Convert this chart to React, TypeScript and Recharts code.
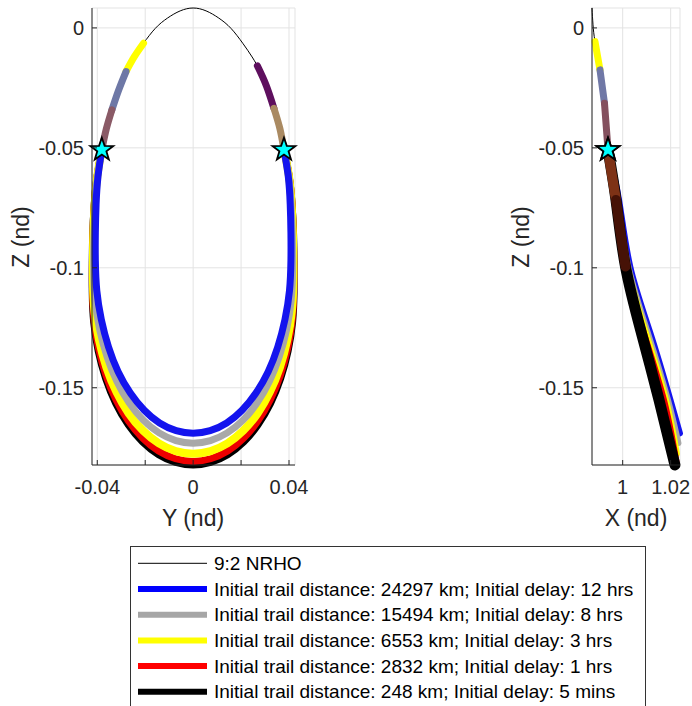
import React from "react"
import {
  ComposedChart,
  Line,
  Scatter,
  XAxis,
  YAxis,
  CartesianGrid
} from "recharts"

// all values in non-dimensional units (nd), pairs are [Y, Z] or [X, Z]

// 9:2 NRHO, Y-Z projection, closed loop starting at the bottom
const nrhoYZ = [
  [0, -0.1822], [-0.0073, -0.1811], [-0.0144, -0.1779], [-0.0211, -0.1726], [-0.0271, -0.1654],
  [-0.0323, -0.1565], [-0.0365, -0.1462], [-0.0396, -0.1348], [-0.0415, -0.1227], [-0.0421, -0.1102],
  [-0.0421, -0.098], [-0.0419, -0.086], [-0.0413, -0.074], [-0.0401, -0.062], [-0.0381, -0.0508],
  [-0.0362, -0.042], [-0.0339, -0.0342], [-0.0311, -0.026], [-0.028, -0.0182], [-0.0246, -0.0121],
  [-0.0207, -0.0064], [-0.0158, -0.0002], [-0.0107, 0.0041], [-0.0054, 0.0071], [0, 0.0083],
  [0.0054, 0.0071], [0.0107, 0.0041], [0.0158, -0.0002], [0.0207, -0.0064], [0.0246, -0.0121],
  [0.028, -0.0182], [0.0311, -0.026], [0.0339, -0.0342], [0.0362, -0.042], [0.0379, -0.0508],
  [0.0401, -0.062], [0.0413, -0.074], [0.0419, -0.086], [0.0421, -0.098], [0.0421, -0.1102],
  [0.0415, -0.1227], [0.0396, -0.1348], [0.0365, -0.1462], [0.0323, -0.1565], [0.0271, -0.1654],
  [0.0211, -0.1726], [0.0144, -0.1779], [0.0073, -0.1811], [0, -0.1822]
]

// trails, Y-Z (left star -> bottom -> right star)
const blackYZ = [
  [-0.0381, -0.0508], [-0.0401, -0.062], [-0.0413, -0.074], [-0.0419, -0.086], [-0.0421, -0.098],
  [-0.0421, -0.1102], [-0.0415, -0.1227], [-0.0396, -0.1348], [-0.0365, -0.1462], [-0.0323, -0.1565],
  [-0.0271, -0.1654], [-0.0211, -0.1726], [-0.0144, -0.1779], [-0.0073, -0.1811], [0, -0.1822],
  [0.0073, -0.1811], [0.0144, -0.1779], [0.0211, -0.1726], [0.0271, -0.1654], [0.0323, -0.1565],
  [0.0365, -0.1462], [0.0396, -0.1348], [0.0415, -0.1227], [0.0421, -0.1102], [0.0421, -0.098],
  [0.0419, -0.086], [0.0413, -0.074], [0.0401, -0.062], [0.0379, -0.0508]
]
const redYZ = [
  [-0.0381, -0.0508], [-0.0401, -0.062], [-0.0413, -0.074], [-0.0418, -0.086], [-0.042, -0.097],
  [-0.042, -0.1087], [-0.0414, -0.1212], [-0.0395, -0.1333], [-0.0364, -0.1447], [-0.0322, -0.155],
  [-0.027, -0.1639], [-0.021, -0.1711], [-0.0144, -0.1764], [-0.0073, -0.1796], [0, -0.1807],
  [0.0073, -0.1796], [0.0144, -0.1764], [0.021, -0.1711], [0.027, -0.1639], [0.0322, -0.155],
  [0.0364, -0.1447], [0.0395, -0.1333], [0.0414, -0.1212], [0.042, -0.1087], [0.042, -0.097],
  [0.0418, -0.086], [0.0413, -0.074], [0.0401, -0.062], [0.0379, -0.0508]
]
const yellowYZ = [
  [-0.0381, -0.0508], [-0.04, -0.062], [-0.0411, -0.074], [-0.0416, -0.085], [-0.0418, -0.0955],
  [-0.0418, -0.1055], [-0.0412, -0.118], [-0.0393, -0.1301], [-0.0362, -0.1415], [-0.032, -0.1518],
  [-0.0269, -0.1607], [-0.0209, -0.1679], [-0.0143, -0.1732], [-0.0073, -0.1764], [0, -0.1775],
  [0.0073, -0.1764], [0.0143, -0.1732], [0.0209, -0.1679], [0.0269, -0.1607], [0.032, -0.1518],
  [0.0362, -0.1415], [0.0393, -0.1301], [0.0412, -0.118], [0.0418, -0.1055], [0.0418, -0.0955],
  [0.0416, -0.085], [0.0411, -0.074], [0.04, -0.062], [0.0379, -0.0508]
]
const grayYZ = [
  [-0.0381, -0.0508], [-0.0399, -0.062], [-0.0409, -0.074], [-0.0414, -0.0875], [-0.0415, -0.1011],
  [-0.0409, -0.1136], [-0.039, -0.1257], [-0.0359, -0.1371], [-0.0318, -0.1474], [-0.0267, -0.1563],
  [-0.0208, -0.1635], [-0.0142, -0.1688], [-0.0072, -0.172], [0, -0.1731], [0.0072, -0.172],
  [0.0142, -0.1688], [0.0208, -0.1635], [0.0267, -0.1563], [0.0318, -0.1474], [0.0359, -0.1371],
  [0.039, -0.1257], [0.0409, -0.1136], [0.0415, -0.1011], [0.0414, -0.0875], [0.0409, -0.074],
  [0.0399, -0.062], [0.0379, -0.0508]
]
const blueYZ = [
  [-0.0381, -0.0508], [-0.0397, -0.062], [-0.0405, -0.0735], [-0.0408, -0.0853], [-0.0408, -0.097],
  [-0.0402, -0.1095], [-0.0383, -0.1216], [-0.0353, -0.133], [-0.0313, -0.1433], [-0.0262, -0.1522],
  [-0.0204, -0.1594], [-0.014, -0.1647], [-0.0071, -0.1679], [0, -0.169], [0.0071, -0.1679],
  [0.014, -0.1647], [0.0204, -0.1594], [0.0262, -0.1522], [0.0313, -0.1433], [0.0353, -0.133],
  [0.0383, -0.1216], [0.0402, -0.1095], [0.0408, -0.097], [0.0408, -0.0853], [0.0405, -0.0735],
  [0.0397, -0.062], [0.0379, -0.0508]
]

// colour-mapped segments above the stars, Y-Z
const yellowArcYZ = [[-0.0207, -0.0064], [-0.0246, -0.0121], [-0.028, -0.0182]]
const slateArcYZ = [[-0.028, -0.0182], [-0.0311, -0.026], [-0.0339, -0.0342]]
const mauveArcYZ = [[-0.0339, -0.0342], [-0.0362, -0.042], [-0.0381, -0.0508]]
const purpleArcYZ = [[0.0268, -0.0158], [0.0305, -0.024], [0.0337, -0.0335]]
const tanArcYZ = [[0.0337, -0.0335], [0.0362, -0.042], [0.0379, -0.0508]]

// 9:2 NRHO, X-Z projection (both legs overlap)
const nrhoXZ = [
  [0.98721, 0.0082], [0.98763, 0.0013], [0.98846, -0.0057], [0.99054, -0.0175], [0.99242, -0.0314],
  [0.99388, -0.0508], [0.997, -0.0717], [1.00117, -0.0995], [1.00783, -0.1272], [1.01513, -0.155],
  [1.02179, -0.1822]
]

// trails, X-Z
const blueXZ = [[0.99388, -0.0508], [0.9985, -0.0717], [1.00317, -0.0995], [1.01158, -0.1272], [1.01992, -0.155], [1.02388, -0.169]]
const grayXZ = [[0.99388, -0.0508], [0.99785, -0.0717], [1.00242, -0.0995], [1.01054, -0.1272], [1.01888, -0.155], [1.02325, -0.1731]]
const yellowXZ = [[0.99388, -0.0508], [0.99763, -0.0717], [1.002, -0.0995], [1.00971, -0.1272], [1.01804, -0.155], [1.02263, -0.1775]]
const redXZ = [[0.99388, -0.0508], [0.99742, -0.0717], [1.00158, -0.0995], [1.00888, -0.1272], [1.01721, -0.155], [1.02242, -0.1807]]
const blackXZ = [[0.99388, -0.0508], [0.99721, -0.0717], [1.00117, -0.0995], [1.00783, -0.1272], [1.01513, -0.155], [1.02179, -0.1822]]
const rustXZ = [[0.99388, -0.0508], [0.9955, -0.0612], [0.99721, -0.0717]]
const maroonXZ = [[0.99721, -0.0717], [0.9991, -0.0855], [1.00117, -0.0995]]

// colour-mapped segments above the star, X-Z
const yellowArcXZ = [[0.98846, -0.0057], [0.9895, -0.0116], [0.99054, -0.0175]]
const slateArcXZ = [[0.99054, -0.0175], [0.99242, -0.0314]]
const mauveArcXZ = [[0.99242, -0.0314], [0.99388, -0.0508]]

// start markers (pentagrams): X, Y, Z
const stars = [
  { x: 0.99388, y: -0.0381, z: -0.0508 },
  { x: 0.99388, y: 0.0379, z: -0.0508 }
]

// axes
const zTicks = [-0.15, -0.1, -0.05, 0]
const zDomain: [number, number] = [-0.1822, 0.0083]
const yTicks = [-0.04, -0.02, 0, 0.02, 0.04]
const yTickLabels = ["-0.04", "", "0", "", "0.04"]
const yDomain: [number, number] = [-0.0422, 0.0425]
const xTicks = [1, 1.02]
const xTickLabels = ["1", "1.02"]
const xDomain: [number, number] = [0.98721, 1.0239]

// legend
const legendLabels = [
  "9:2 NRHO",
  "Initial trail distance: 24297 km; Initial delay: 12 hrs",
  "Initial trail distance: 15494 km; Initial delay: 8 hrs",
  "Initial trail distance: 6553 km; Initial delay: 3 hrs",
  "Initial trail distance: 2832 km; Initial delay: 1 hrs",
  "Initial trail distance: 248 km; Initial delay: 5 mins"
]
const legendColors = ["#000000", "#0000ff", "#a6a6a6", "#ffff00", "#ff0000", "#000000"]
const legendWidths = [1, 6, 6, 6, 6, 6]

const FONT = "'Liberation Sans', Arial, Helvetica, sans-serif"
const INK = "#262626"
const GRID = "#e3e3e3"

const yz = (pts: number[][]) => pts.map(([y, z]) => ({ y, z }))
const xz = (pts: number[][]) => pts.map(([x, z]) => ({ x, z }))

function ZTick(props: any) {
  const { x, y, payload } = props
  return (
    <g>
      <line x1={x} x2={x + 5} y1={y} y2={y} stroke={INK} />
      <text x={x - 8} y={y} textAnchor="end" dominantBaseline="central" fontSize={20} fontFamily={FONT} fill={INK}>
        {String(payload.value)}
      </text>
    </g>
  )
}

function makeBottomTick(ticks: number[], labels: string[]) {
  return function BottomTick(props: any) {
    const { x, y, payload } = props
    const i = ticks.indexOf(payload.value)
    return (
      <g>
        <line x1={x} x2={x} y1={y} y2={y - 5} stroke={INK} />
        <text x={x} y={y + 22} textAnchor="middle" dominantBaseline="central" fontSize={20} fontFamily={FONT} fill={INK}>
          {i >= 0 ? labels[i] : ""}
        </text>
      </g>
    )
  }
}
const YBottomTick = makeBottomTick(yTicks, yTickLabels)
const XBottomTick = makeBottomTick(xTicks, xTickLabels)

function StarShape(props: any) {
  const { cx, cy } = props
  const R = 12
  const r = 4.8
  const pts: string[] = []
  for (let k = 0; k < 10; k++) {
    const rad = k % 2 === 0 ? R : r
    const a = -Math.PI / 2 + (k * Math.PI) / 5
    pts.push(`${cx + rad * Math.cos(a)},${cy + rad * Math.sin(a)}`)
  }
  return <polygon points={pts.join(" ")} fill="#00ffff" stroke="#000" strokeWidth={1.8} />
}

const lineProps = {
  dataKey: "z",
  type: "natural" as const,
  dot: false,
  activeDot: false,
  isAnimationActive: false,
  strokeLinecap: "round" as const,
  strokeLinejoin: "round" as const,
  legendType: "none" as const
}

function axisCommon() {
  return {
    type: "number" as const,
    interval: 0 as const,
    tickSize: 0,
    tickMargin: 0,
    tickLine: false,
    axisLine: { stroke: INK }
  }
}

export default function App() {
  return (
    <div style={{ position: "absolute", left: 0, top: 0, width: 692, height: 706, background: "#fff", overflow: "hidden" }}>
      {/* Y-Z view */}
      <div style={{ position: "absolute", left: 0, top: 0 }}>
        <ComposedChart width={320} height={540} margin={{ top: 8, right: 25, bottom: 45, left: 0 }}>
          <CartesianGrid stroke={GRID} />
          <XAxis {...axisCommon()} dataKey="y" domain={yDomain} ticks={yTicks} height={30} tick={<YBottomTick />} />
          <YAxis {...axisCommon()} dataKey="z" domain={zDomain} ticks={zTicks} width={92} tick={<ZTick />} />
          <Line {...lineProps} data={yz(nrhoYZ)} stroke="#000" strokeWidth={1} />
          <Line {...lineProps} data={yz(blackYZ)} stroke="#000" strokeWidth={7} />
          <Line {...lineProps} data={yz(redYZ)} stroke="#ee0000" strokeWidth={7} />
          <Line {...lineProps} data={yz(yellowYZ)} stroke="#ffff00" strokeWidth={8} />
          <Line {...lineProps} data={yz(grayYZ)} stroke="#a8a8a8" strokeWidth={7} />
          <Line {...lineProps} data={yz(blueYZ)} stroke="#1414ee" strokeWidth={7} />
          <Line {...lineProps} data={yz(yellowArcYZ)} stroke="#ffff00" strokeWidth={7} />
          <Line {...lineProps} data={yz(slateArcYZ)} stroke="#6e78a6" strokeWidth={7} />
          <Line {...lineProps} data={yz(mauveArcYZ)} stroke="#8a5a66" strokeWidth={7} />
          <Line {...lineProps} data={yz(purpleArcYZ)} stroke="#5e0f5e" strokeWidth={7} />
          <Line {...lineProps} data={yz(tanArcYZ)} stroke="#aa8a62" strokeWidth={7} />
          <Scatter data={stars} dataKey="z" shape={<StarShape />} isAnimationActive={false} legendType="none" />
        </ComposedChart>
      </div>

      {/* X-Z view */}
      <div style={{ position: "absolute", left: 500, top: 0 }}>
        <ComposedChart width={192} height={540} margin={{ top: 8, right: 12, bottom: 45, left: 0 }}>
          <CartesianGrid stroke={GRID} />
          <XAxis {...axisCommon()} dataKey="x" domain={xDomain} ticks={xTicks} height={30} tick={<XBottomTick />} />
          <YAxis {...axisCommon()} dataKey="z" domain={zDomain} ticks={zTicks} width={92} tick={<ZTick />} />
          <Line {...lineProps} data={xz(nrhoXZ)} stroke="#000" strokeWidth={1} />
          <Line {...lineProps} data={xz(blueXZ)} stroke="#1414ee" strokeWidth={6} />
          <Line {...lineProps} data={xz(grayXZ)} stroke="#a8a8a8" strokeWidth={6} />
          <Line {...lineProps} data={xz(yellowXZ)} stroke="#ffff00" strokeWidth={6} />
          <Line {...lineProps} data={xz(redXZ)} stroke="#ee0000" strokeWidth={6} />
          <Line {...lineProps} data={xz(blackXZ)} stroke="#000" strokeWidth={11} />
          <Line {...lineProps} data={xz(rustXZ)} stroke="#7e3216" strokeWidth={10} />
          <Line {...lineProps} data={xz(maroonXZ)} stroke="#461206" strokeWidth={10} />
          <Line {...lineProps} data={xz(yellowArcXZ)} stroke="#ffff00" strokeWidth={7} />
          <Line {...lineProps} data={xz(slateArcXZ)} stroke="#7078a6" strokeWidth={7} />
          <Line {...lineProps} data={xz(mauveArcXZ)} stroke="#84505e" strokeWidth={7} />
          <Scatter data={stars} dataKey="z" shape={<StarShape />} isAnimationActive={false} legendType="none" />
        </ComposedChart>
      </div>

      {/* axis titles and legend */}
      <svg width={692} height={706} style={{ position: "absolute", left: 0, top: 0, pointerEvents: "none" }}>
        <g fontFamily={FONT} fontSize={23} fill={INK}>
          <text x={21} y={237} textAnchor="middle" dominantBaseline="central" transform="rotate(-90 21 237)">Z (nd)</text>
          <text x={521} y={237} textAnchor="middle" dominantBaseline="central" transform="rotate(-90 521 237)">Z (nd)</text>
          <text x={193} y={518} textAnchor="middle" dominantBaseline="central">Y (nd)</text>
          <text x={636} y={518} textAnchor="middle" dominantBaseline="central">X (nd)</text>
        </g>
        <rect x={130.5} y={546.5} width={515} height={200} fill="#fff" stroke="#333" strokeWidth={1} />
        {legendLabels.map((label, i) => {
          const cy = 563.3 + i * 25.7
          return (
            <g key={label}>
              <line x1={138} x2={207} y1={cy} y2={cy} stroke={legendColors[i]} strokeWidth={legendWidths[i]} />
              <text x={214} y={cy} dominantBaseline="central" fontFamily={FONT} fontSize={19} fill="#000">
                {label}
              </text>
            </g>
          )
        })}
      </svg>
    </div>
  )
}
